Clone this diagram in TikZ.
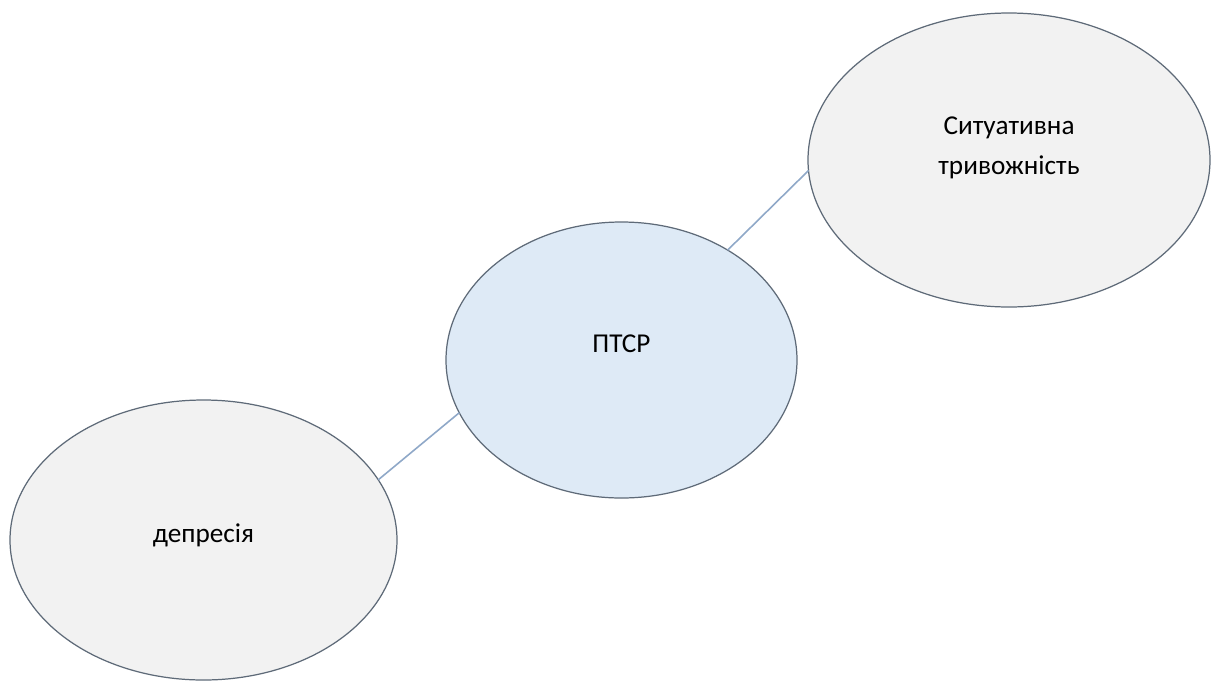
\documentclass[tikz,border=0pt]{standalone}
\usepackage{fontspec}
\setmainfont{Carlito}
\usetikzlibrary{shapes.geometric}
\definecolor{rimgray}{HTML}{5E6A78}
\definecolor{linkblue}{HTML}{8FA8C8}
\definecolor{greyfill}{HTML}{F2F2F2}
\definecolor{bluefill}{HTML}{DEEAF6}
\begin{document}
\begin{tikzpicture}[x=0.02cm,y=-0.02cm,
  bubble/.style={ellipse,draw=rimgray,line width=0.7pt,inner sep=0pt,outer sep=0pt,fill=greyfill},
  word/.style={font=\fontsize{15.5pt}{22.7pt}\selectfont,align=center},
  link/.style={draw=linkblue,line width=0.9pt}]
\useasboundingbox[fill=white] (0,0) rectangle (1220,683);
\node[bubble,minimum width=402*0.02cm,minimum height=294*0.02cm,
  label={[word,yshift=0.25cm]center:Ситуативна\\тривожність}] (anx) at (1009,160) {};
\node[bubble,fill=bluefill,minimum width=351*0.02cm,minimum height=276*0.02cm,
  label={[word,yshift=0.32cm]center:ПТСР}] (ptsr) at (621.5,360) {};
\node[bubble,minimum width=387*0.02cm,minimum height=280*0.02cm,
  label={[word,yshift=0.1cm]center:депресія}] (dep) at (203.5,540) {};
\draw[link] (ptsr.46.7) -- (anx.183);
\draw[link] (ptsr.198) -- (dep.19);
\end{tikzpicture}
\end{document}
